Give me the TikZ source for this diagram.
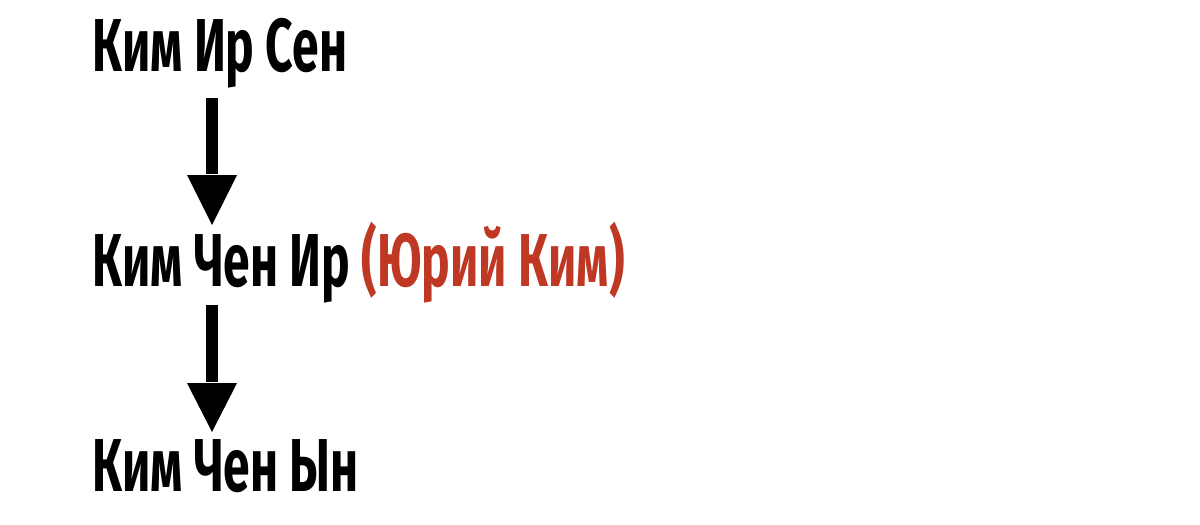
\documentclass[tikz,border=0pt]{standalone}
\usepackage{fontspec}
\setmainfont{Fira Sans}[FakeStretch=0.64]
\definecolor{kimred}{RGB}{190,56,36}
\tikzset{
  kimname/.style={anchor=base west, inner sep=0pt, font=\fontsize{75}{80}\selectfont\bfseries},
  shaft/.style={line width=12pt, black},
  head/.style={fill=black}
}
\begin{document}
\begin{tikzpicture}[x=1pt,y=-1pt]
\useasboundingbox (0,0) rectangle (1200,525);
\node[kimname] (n1) at (92,71) {Ким Ир Сен};
\node[kimname] (n2) at (92,286) {Ким Чен Ир \textcolor{kimred}{(Юрий Ким)}};
\node[kimname] (n3) at (92,491) {Ким Чен Ын};
\coordinate (a1s) at (212,98);
\coordinate (a1m) at (212,175);
\coordinate (a1e) at (212,225);
\coordinate (a2s) at (212,305);
\coordinate (a2m) at (212,383);
\coordinate (a2e) at (212,432);
\draw[shaft] (a1s) -- ([yshift=1pt]a1m);
\fill[head] ([xshift=-25pt]a1m) -- (a1e) -- ([xshift=25pt]a1m) -- cycle;
\draw[shaft] (a2s) -- ([yshift=1pt]a2m);
\fill[head] ([xshift=-25pt]a2m) -- (a2e) -- ([xshift=25pt]a2m) -- cycle;
\end{tikzpicture}
\end{document}
